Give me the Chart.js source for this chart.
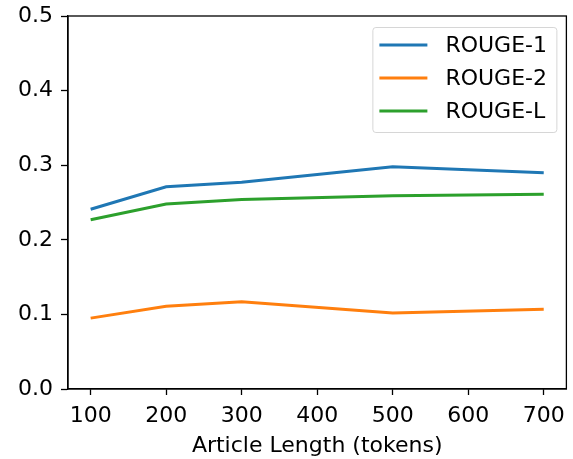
<!DOCTYPE html>
<html>
<head>
<meta charset="utf-8">
<script src="https://cdn.jsdelivr.net/npm/chart.js@4.4.0/dist/chart.umd.min.js"></script>
<style>
  html, body { margin: 0; padding: 0; background: #fff; }
  #wrap { width: 573px; height: 459px; }
</style>
</head>
<body>
<div id="wrap"><canvas id="chart" width="573" height="459"></canvas></div>
<script>
const lengths = [100, 200, 300, 500, 700];
const rouge1 = [0.241, 0.271, 0.277, 0.298, 0.290];
const rouge2 = [0.095, 0.111, 0.117, 0.102, 0.107];
const rougeL = [0.227, 0.248, 0.254, 0.259, 0.261];
const seriesNames = ["ROUGE-1", "ROUGE-2", "ROUGE-L"];
const seriesColors = ["#1f77b4", "#ff7f0e", "#2ca02c"];
const xTicks = [100, 200, 300, 400, 500, 600, 700];
const yTicks = [0.0, 0.1, 0.2, 0.3, 0.4, 0.5];

const FONT = "'DejaVu Sans', sans-serif";
const FS = 22;

function pts(vals) {
  return lengths.map((x, i) => ({ x: x, y: vals[i] }));
}

// frame round the plot area
const frame = {
  id: "frame",
  afterDatasetsDraw(c) {
    const a = c.chartArea, ctx = c.ctx;
    ctx.save();
    ctx.strokeStyle = "#000";
    ctx.lineWidth = 1.3;
    ctx.strokeRect(a.left, a.top, a.right - a.left, a.bottom - a.top);
    ctx.restore();
  }
};

// matplotlib style legend in the upper right
const boxLegend = {
  id: "boxLegend",
  afterDraw(c) {
    const ctx = c.ctx, a = c.chartArea;
    const x0 = a.right - 194, y0 = a.top + 11, w = 184, h = 105;
    ctx.save();
    ctx.fillStyle = "rgba(255,255,255,0.8)";
    ctx.strokeStyle = "#d6d6d6";
    ctx.lineWidth = 1;
    ctx.beginPath();
    ctx.roundRect(x0 + 0.5, y0 + 0.5, w, h, 3);
    ctx.fill();
    ctx.stroke();
    ctx.font = FS + "px " + FONT;
    ctx.textBaseline = "middle";
    c.data.datasets.forEach((ds, i) => {
      const y = y0 + 18 + i * 33;
      ctx.strokeStyle = ds.borderColor;
      ctx.lineWidth = 3;
      ctx.beginPath();
      ctx.moveTo(x0 + 7, y);
      ctx.lineTo(x0 + 55, y);
      ctx.stroke();
      ctx.fillStyle = "#000";
      ctx.fillText(ds.label, x0 + 73, y + 1);
    });
    ctx.restore();
  }
};

new Chart(document.getElementById("chart"), {
  type: "line",
  data: {
    datasets: [rouge1, rouge2, rougeL].map((v, i) => ({
      label: seriesNames[i],
      data: pts(v),
      borderColor: seriesColors[i],
      backgroundColor: seriesColors[i],
      borderWidth: 3,
      pointRadius: 0,
      tension: 0
    }))
  },
  options: {
    responsive: false,
    animation: false,
    layout: { padding: { left: 0, top: 0, right: 6, bottom: 0 } },
    plugins: { legend: { display: false }, tooltip: { enabled: false } },
    scales: {
      x: {
        type: "linear",
        min: 70,
        max: 730,
        afterBuildTicks: s => { s.ticks = xTicks.map(v => ({ value: v })); },
        afterFit: s => { s.height = 70; },
        grid: { drawOnChartArea: false, drawTicks: true, tickLength: 6, color: "#000", tickWidth: 1.3 },
        border: { display: true, color: "#000", width: 1.3 },
        ticks: { color: "#000", font: { family: FONT, size: FS }, padding: 8, maxRotation: 0 },
        title: { display: true, text: "Article Length (tokens)", color: "#000", font: { family: FONT, size: FS }, padding: { top: 1, bottom: 0 } }
      },
      y: {
        min: 0,
        max: 0.5,
        afterBuildTicks: s => { s.ticks = yTicks.map(v => ({ value: v })); },
        afterFit: s => { s.width = 68; s.paddingTop = 16; s.paddingBottom = 0; },
        grid: { drawOnChartArea: false, drawTicks: true, tickLength: 7, color: "#000", tickWidth: 1.3 },
        border: { display: true, color: "#000", width: 1.3 },
        ticks: { color: "#000", font: { family: FONT, size: FS }, padding: 8, callback: v => v.toFixed(1) }
      }
    }
  },
  plugins: [frame, boxLegend]
});
</script>
</body>
</html>
